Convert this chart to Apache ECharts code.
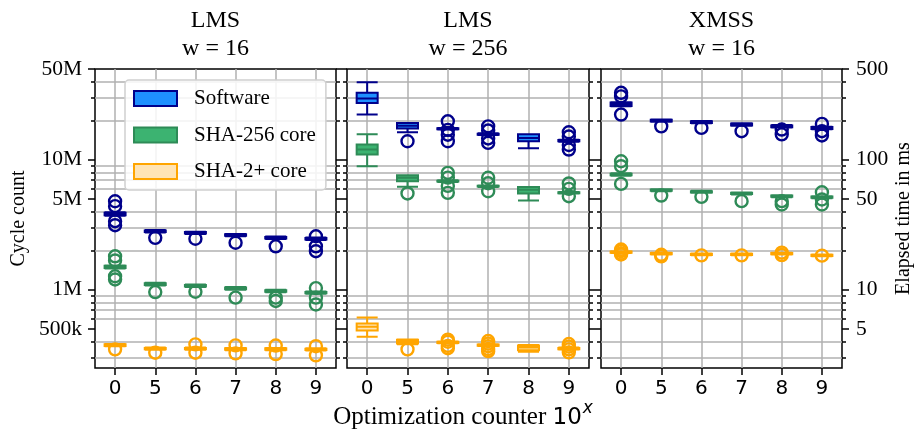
<!DOCTYPE html>
<html>
<head>
<meta charset="utf-8">
<script src="https://cdn.jsdelivr.net/npm/echarts@6/dist/echarts.min.js"></script>
<style>
html,body{margin:0;padding:0;background:#fff;}
#chart{width:917px;height:433px;}
</style>
</head>
<body>
<div id="chart"></div>
<script>
// ---------------- data ----------------
const categories = ['0', '5', '6', '7', '8', '9'];
const seriesNames = ['Software', 'SHA-256 core', 'SHA-2+ core'];
const panelTitles = ['LMS\nw = 16', 'LMS\nw = 256', 'XMSS\nw = 16'];

const cycleTickValues = [5e5, 1e6, 5e6, 1e7, 5e7];
const cycleTickLabels = ['500k', '1M', '5M', '10M', '50M'];
const cycleMinorTicks = [3e5, 4e5, 6e5, 7e5, 8e5, 9e5, 2e6, 3e6, 4e6, 6e6, 7e6, 8e6, 9e6, 2e7, 3e7, 4e7];
const msTickValues = [5, 10, 50, 100, 500];
const msTickLabels = ['5', '10', '50', '100', '500'];
const msMinorTicks = [3, 4, 6, 7, 8, 9, 20, 30, 40, 60, 70, 80, 90, 200, 300, 400];

// box data: [whisker low, Q1, median, Q3, whisker high] in cycles
const lms16SoftwareBox = [[3.72e6,3.74e6,3.84e6,3.92e6,3.95e6],[2.76e6,2.78e6,2.82e6,2.86e6,2.88e6],[2.69e6,2.71e6,2.74e6,2.78e6,2.80e6],[2.58e6,2.60e6,2.63e6,2.67e6,2.69e6],[2.46e6,2.48e6,2.51e6,2.55e6,2.57e6],[2.42e6,2.44e6,2.47e6,2.50e6,2.52e6]];
const lms16SoftwareOut = [[4.8e6,4.4e6,3.37e6,3.14e6],[2.51e6],[2.47e6],[2.30e6],[2.16e6],[2.58e6,2.16e6,1.98e6]];
const lms16Sha256Box = [[1.46e6,1.47e6,1.50e6,1.53e6,1.54e6],[1.08e6,1.09e6,1.10e6,1.12e6,1.13e6],[1.05e6,1.06e6,1.07e6,1.09e6,1.10e6],[1.00e6,1.01e6,1.02e6,1.04e6,1.05e6],[0.955e6,0.965e6,0.976e6,0.99e6,1.0e6],[0.93e6,0.94e6,0.948e6,0.96e6,0.97e6]];
const lms16Sha256Out = [[1.81e6,1.68e6,1.27e6,1.20e6],[0.96e6],[0.965e6],[0.87e6],[0.87e6,0.82e6],[1.03e6,0.87e6,0.77e6]];
const lms16Sha2pBox = [[367e3,370e3,375e3,380e3,383e3],[346e3,349e3,353e3,357e3,360e3],[346e3,349e3,353e3,357e3,360e3],[343e3,346e3,350e3,354e3,357e3],[343e3,346e3,350e3,354e3,357e3],[341e3,344e3,348e3,352e3,355e3]];
const lms16Sha2pOut = [[348e3],[328e3],[380e3,328e3],[373e3,324e3],[372e3,320e3],[368e3,313e3]];

const lms256SoftwareBox = [[22.3e6,27.4e6,29.6e6,32.8e6,39.5e6],[16.3e6,17.4e6,18.3e6,19.2e6,19.2e6],[17.1e6,17.2e6,17.3e6,17.5e6,17.6e6],[15.5e6,15.6e6,15.7e6,15.9e6,16.0e6],[12.3e6,13.9e6,14.7e6,15.7e6,15.7e6],[13.8e6,13.9e6,14.0e6,14.2e6,14.3e6]];
const lms256SoftwareOut = [[],[13.9e6],[19.8e6,17.0e6,15.6e6,13.9e6],[18.1e6,16.8e6,14.6e6,13.5e6],[],[16.3e6,15.1e6,13.0e6,12.0e6]];
const lms256Sha256Box = [[8.94e6,11.0e6,12.0e6,13.1e6,15.7e6],[6.2e6,6.84e6,7.28e6,7.62e6,7.62e6],[6.75e6,6.8e6,6.84e6,6.9e6,6.95e6],[6.18e6,6.22e6,6.26e6,6.31e6,6.35e6],[4.86e6,5.51e6,5.88e6,6.19e6,6.19e6],[5.5e6,5.53e6,5.57e6,5.62e6,5.65e6]];
const lms256Sha256Out = [[],[5.51e6],[7.94e6,7.3e6,6.3e6,5.57e6],[7.28e6,6.6e6,5.73e6],[],[6.58e6,5.98e6,5.25e6]];
const lms256Sha2pBox = [[434e3,486e3,519e3,551e3,613e3],[380e3,386e3,400e3,412e3,415e3],[388e3,390e3,394e3,398e3,400e3],[369e3,371e3,375e3,379e3,381e3],[333e3,343e3,360e3,372e3,375e3],[347e3,349e3,353e3,357e3,359e3]];
const lms256Sha2pOut = [[],[348e3],[413e3,398e3,370e3,355e3],[403e3,385e3,368e3,350e3,337e3],[],[382e3,365e3,348e3,330e3]];

const xmssSoftwareBox = [[25.8e6,25.9e6,26.6e6,27.6e6,27.8e6],[19.6e6,19.7e6,20.0e6,20.3e6,20.4e6],[19.1e6,19.2e6,19.5e6,19.8e6,19.9e6],[18.3e6,18.4e6,18.7e6,19.0e6,19.1e6],[17.7e6,17.8e6,18.1e6,18.4e6,18.5e6],[17.2e6,17.3e6,17.6e6,17.9e6,18.0e6]];
const xmssSoftwareOut = [[32.8e6,30.8e6,22.3e6],[18.1e6],[17.6e6],[16.6e6],[17.1e6,15.7e6],[18.9e6,16.6e6,15.4e6]];
const xmssSha256Box = [[7.55e6,7.6e6,7.71e6,7.82e6,7.87e6],[5.74e6,5.78e6,5.84e6,5.91e6,5.94e6],[5.57e6,5.61e6,5.67e6,5.73e6,5.77e6],[5.41e6,5.45e6,5.51e6,5.57e6,5.61e6],[5.16e6,5.2e6,5.25e6,5.31e6,5.34e6],[5.06e6,5.1e6,5.15e6,5.21e6,5.24e6]];
const xmssSha256Out = [[9.75e6,8.93e6,6.53e6],[5.31e6],[5.19e6],[4.81e6],[4.81e6,4.53e6],[5.63e6,4.95e6,4.53e6]];
const xmssSha2pBox = [[1.92e6,1.93e6,1.95e6,1.97e6,1.98e6],[1.87e6,1.88e6,1.90e6,1.92e6,1.93e6],[1.84e6,1.85e6,1.87e6,1.89e6,1.90e6],[1.84e6,1.85e6,1.87e6,1.89e6,1.90e6],[1.87e6,1.88e6,1.90e6,1.92e6,1.93e6],[1.81e6,1.82e6,1.84e6,1.86e6,1.87e6]];
const xmssSha2pOut = [[2.04e6,1.98e6,1.90e6,1.87e6],[1.86e6,1.81e6],[1.84e6],[1.84e6],[1.93e6,1.85e6],[1.83e6]];

// ---------------- styling ----------------
const fills = ['#1e90ff', '#3cb371', '#ffe4b5'];
const edges = ['#00008b', '#2e8b57', '#ffa500'];
const gridDefs = [{left: 95, width: 241}, {left: 347, width: 242}, {left: 601, width: 241}];
const GTOP = 69, GH = 299;
const SERIF = '"Liberation Serif", "Times New Roman", serif';

const panels = [
  {box: [lms16SoftwareBox, lms16Sha256Box, lms16Sha2pBox], out: [lms16SoftwareOut, lms16Sha256Out, lms16Sha2pOut]},
  {box: [lms256SoftwareBox, lms256Sha256Box, lms256Sha2pBox], out: [lms256SoftwareOut, lms256Sha256Out, lms256Sha2pOut]},
  {box: [xmssSoftwareBox, xmssSha256Box, xmssSha2pBox], out: [xmssSoftwareOut, xmssSha256Out, xmssSha2pOut]}
];

function nearestLabel(v, vals, labels) {
  let best = 0;
  const lv = Math.log10(v);
  for (let i = 1; i < vals.length; i++) {
    if (Math.abs(Math.log10(vals[i]) - lv) < Math.abs(Math.log10(vals[best]) - lv)) best = i;
  }
  return labels[best];
}

const grids = [], xAxes = [], yAxes = [], series = [], graphics = [];
const tickLine = {color: '#000', width: 1.5};
const gridLine = {color: '#b0b0b0', width: 1.5};

gridDefs.forEach((g, p) => {
  grids.push({left: g.left, top: GTOP, width: g.width, height: GH, show: true,
    borderColor: '#000', borderWidth: 1.5, backgroundColor: 'transparent', containLabel: false});
  for (let s = 0; s < 3; s++) {
    xAxes.push({
      gridIndex: p, type: 'category', data: categories, show: s === 0, boundaryGap: true,
      axisLine: {show: false},
      axisTick: {show: true, alignWithLabel: true, length: 7, lineStyle: tickLine},
      axisLabel: {show: true, interval: 0, fontFamily: 'DejaVu Sans', fontSize: 20, color: '#000', margin: 11},
      splitLine: {show: true, alignWithLabel: true, interval: 0, lineStyle: gridLine}
    });
  }
  const allCycle = cycleMinorTicks.concat(cycleTickValues);
  yAxes.push({
    gridIndex: p, type: 'log', logBase: 10, min: 250000, max: 5e7, position: 'left',
    axisLine: {show: false},
    axisTick: {show: true, length: 7, customValues: cycleTickValues, lineStyle: tickLine},
    axisLabel: {show: p === 0, customValues: cycleTickValues, margin: 13, fontFamily: SERIF, fontSize: 21.5, color: '#000',
      formatter: v => nearestLabel(v, cycleTickValues, cycleTickLabels)},
    splitLine: {show: false},
    name: p === 0 ? 'Cycle count' : '', nameLocation: 'middle', nameRotate: 90, nameGap: 66,
    nameTextStyle: {fontFamily: SERIF, fontSize: 20, color: '#000'}
  });
  yAxes.push({
    gridIndex: p, type: 'log', logBase: 10, min: 250000, max: 5e7, position: 'left',
    axisLine: {show: false},
    axisTick: {show: true, length: 4, customValues: cycleMinorTicks, lineStyle: tickLine},
    axisLabel: {show: false},
    splitLine: {show: true, customValues: allCycle, lineStyle: gridLine}
  });
  yAxes.push({
    gridIndex: p, type: 'log', logBase: 10, min: 2.5, max: 500, position: 'right',
    axisLine: {show: false},
    axisTick: {show: true, length: 7, customValues: msTickValues, lineStyle: tickLine},
    axisLabel: {show: p === 2, customValues: msTickValues, margin: 14, fontFamily: SERIF, fontSize: 21.5, color: '#000',
      formatter: v => nearestLabel(v, msTickValues, msTickLabels)},
    splitLine: {show: false},
    name: p === 2 ? 'Elapsed time in ms' : '', nameLocation: 'middle', nameRotate: 90, nameGap: 52,
    nameTextStyle: {fontFamily: SERIF, fontSize: 20, color: '#000'}
  });
  yAxes.push({
    gridIndex: p, type: 'log', logBase: 10, min: 2.5, max: 500, position: 'right',
    axisLine: {show: false},
    axisTick: {show: true, length: 4, customValues: msMinorTicks, lineStyle: tickLine},
    axisLabel: {show: false},
    splitLine: {show: false}
  });

  for (let s = 0; s < 3; s++) {
    series.push({
      name: seriesNames[s], type: 'boxplot', xAxisIndex: 3 * p + s, yAxisIndex: 4 * p,
      data: panels[p].box[s], boxWidth: [21, 21], silent: true, z: 3,
      itemStyle: {color: fills[s], borderColor: edges[s], borderWidth: 2},
      emphasis: {disabled: true}
    });
    const pts = [];
    panels[p].out[s].forEach((vals, ci) => vals.forEach(v => pts.push([ci, v])));
    series.push({
      name: seriesNames[s] + ' outliers', type: 'scatter', xAxisIndex: 3 * p + s, yAxisIndex: 4 * p,
      data: pts, symbol: 'circle', symbolSize: 12, silent: true, z: 4,
      itemStyle: {color: 'rgba(0,0,0,0)', borderColor: edges[s], borderWidth: 2.4, opacity: 1},
      emphasis: {disabled: true}
    });
  }
  graphics.push({
    type: 'text', x: g.left + g.width / 2, y: 7, silent: true,
    style: {text: panelTitles[p], align: 'center', verticalAlign: 'top',
      font: '24px ' + SERIF, lineHeight: 28, fill: '#000'}
  });
});

graphics.push({
  type: 'text', x: 463, y: 400, silent: true,
  style: {
    text: '{a|Optimization counter }{b|10}{c|x}', align: 'center', verticalAlign: 'top',
    rich: {
      a: {fontFamily: SERIF, fontSize: 25, lineHeight: 30, verticalAlign: 'bottom', fill: '#000'},
      b: {fontFamily: 'DejaVu Sans', fontSize: 23, lineHeight: 30, verticalAlign: 'bottom', fill: '#000'},
      c: {fontFamily: 'DejaVu Sans', fontSize: 17, fontStyle: 'italic', lineHeight: 24, verticalAlign: 'top', fill: '#000', padding: [0, 0, 0, 1]}
    }
  }
});

const option = {
  animation: false,
  backgroundColor: '#fff',
  grid: grids,
  xAxis: xAxes,
  yAxis: yAxes,
  legend: {
    show: true, orient: 'vertical', left: 125, top: 80, icon: 'rect',
    itemWidth: 43, itemHeight: 15, itemGap: 15.5, padding: [8, 10, 8, 8],
    backgroundColor: 'rgba(255,255,255,0.85)', borderColor: '#d0d0d0', borderWidth: 1.5, borderRadius: 4,
    selectedMode: false,
    textStyle: {fontFamily: SERIF, fontSize: 21, color: '#000', padding: [0, 0, 0, 12]},
    data: seriesNames.map((n, i) => ({name: n, itemStyle: {color: fills[i], borderColor: edges[i], borderWidth: 2}}))
  },
  graphic: graphics,
  series: series
};

const chart = echarts.init(document.getElementById('chart'), null, {renderer: 'canvas'});
chart.setOption(option);
</script>
</body>
</html>
